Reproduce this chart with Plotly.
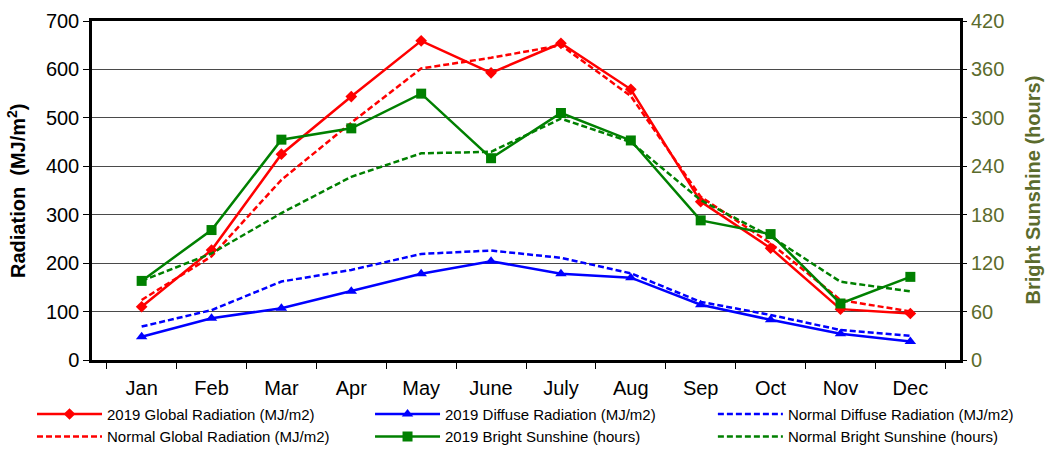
import plotly.graph_objects as go

# Monthly radiation and sunshine data
months = ["Jan", "Feb", "Mar", "Apr", "May", "June", "July", "Aug", "Sep", "Oct", "Nov", "Dec"]

global_2019 = [110, 227, 425, 544, 659, 593, 654, 559, 327, 231, 105, 96]
global_normal = [124, 214, 372, 490, 602, 624, 650, 545, 337, 241, 124, 100]
diffuse_2019 = [48, 86, 107, 142, 178, 204, 178, 170, 114, 83, 54, 38]
diffuse_normal = [69, 103, 162, 186, 219, 226, 211, 179, 120, 93, 62, 50]
sunshine_2019 = [98, 161, 273, 287, 330, 250, 306, 272, 173, 156, 70, 103]
sunshine_normal = [98, 132, 182, 227, 256, 258, 299, 270, 198, 153, 97, 85]

RED, BLUE, GREEN = "#ff0000", "#0000ff", "#008000"
OLIVE = "#5b6b2c"
DASH = "6px,3px"

fig = go.Figure()

# Three legend columns, two entries each
fig.add_trace(go.Scatter(x=months, y=global_2019, name="2019 Global Radiation (MJ/m2)",
                         mode="lines+markers", line=dict(color=RED, width=2.5),
                         marker=dict(symbol="diamond", size=9, color=RED), legend="legend"))
fig.add_trace(go.Scatter(x=months, y=global_normal, name="Normal Global Radiation (MJ/m2)",
                         mode="lines", line=dict(color=RED, width=2.5, dash=DASH), legend="legend"))
fig.add_trace(go.Scatter(x=months, y=diffuse_2019, name="2019 Diffuse Radiation (MJ/m2)",
                         mode="lines+markers", line=dict(color=BLUE, width=2.5),
                         marker=dict(symbol="triangle-up", size=10, color=BLUE), legend="legend2"))
fig.add_trace(go.Scatter(x=months, y=sunshine_2019, name="2019 Bright Sunshine (hours)",
                         mode="lines+markers", line=dict(color=GREEN, width=2.5),
                         marker=dict(symbol="square", size=10, color=GREEN), yaxis="y2",
                         legend="legend2"))
fig.add_trace(go.Scatter(x=months, y=diffuse_normal, name="Normal Diffuse Radiation (MJ/m2)",
                         mode="lines", line=dict(color=BLUE, width=2.5, dash=DASH), legend="legend3"))
fig.add_trace(go.Scatter(x=months, y=sunshine_normal, name="Normal Bright Sunshine (hours)",
                         mode="lines", line=dict(color=GREEN, width=2.5, dash=DASH), yaxis="y2",
                         legend="legend3"))


def legend_column(x):
    return dict(
        orientation="v", xref="container", yref="container",
        x=x, y=0.12, xanchor="left", yanchor="top", itemwidth=65,
        font=dict(size=15), tracegroupgap=0, bgcolor="rgba(0,0,0,0)",
    )


fig.update_layout(
    width=1053, height=452,
    margin=dict(l=92, r=93, t=21, b=92, autoexpand=False),
    paper_bgcolor="white", plot_bgcolor="white",
    font=dict(family="Arial, Liberation Sans, sans-serif", color="black"),
    xaxis=dict(
        type="category", tickson="boundaries", ticks="outside", ticklen=6,
        tickcolor="black", tickfont=dict(size=20), ticklabelstandoff=8,
        showline=True, linecolor="black", linewidth=2.5, mirror=True,
        showgrid=False, zeroline=False,
    ),
    yaxis=dict(
        range=[0, 700], dtick=100, ticks="outside", ticklen=6, tickcolor="black",
        tickfont=dict(size=20), showline=True, linecolor="black", linewidth=2.5,
        mirror=True, showgrid=True, gridcolor="#4a4a4a", gridwidth=1, zeroline=False,
    ),
    yaxis2=dict(
        overlaying="y", side="right", range=[0, 420], dtick=60,
        ticks="outside", ticklen=6, tickcolor="black",
        tickfont=dict(size=20, color=OLIVE), showgrid=False, zeroline=False,
        showline=False,
    ),
    legend=legend_column(0.0304),
    legend2=legend_column(0.3514),
    legend3=legend_column(0.677),
    showlegend=True,
)

# Axis titles
fig.add_annotation(text="<b>Radiation  (MJ/m<sup>2</sup>)</b>", xref="paper", yref="paper",
                   x=-0.087, y=0.5, xanchor="center", yanchor="middle", textangle=-90,
                   showarrow=False, font=dict(size=20, color="black"))
fig.add_annotation(text="<b>Bright Sunshine (hours)</b>", xref="paper", yref="paper",
                   x=1.083, y=0.5, xanchor="center", yanchor="middle", textangle=-90,
                   showarrow=False, font=dict(size=20, color=OLIVE))

fig.write_html("out.html")
